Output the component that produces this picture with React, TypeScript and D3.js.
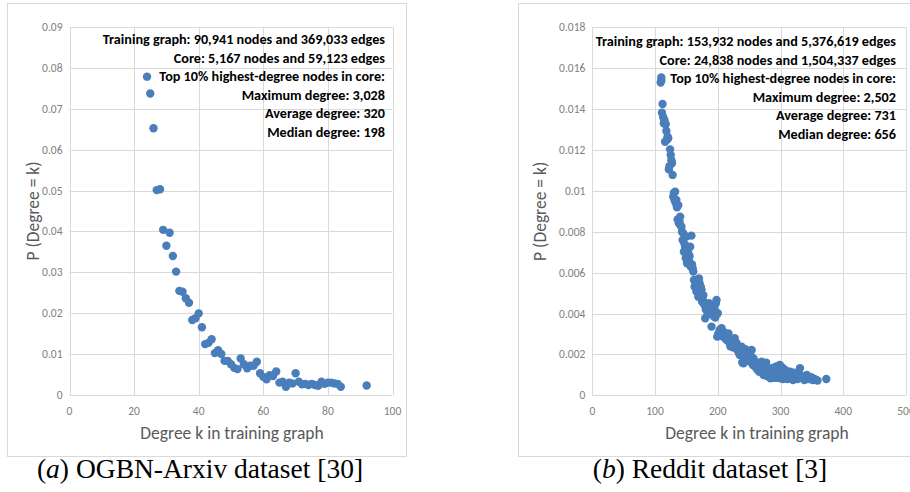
import React from "react";
import * as d3 from "d3";

// ---------- DATA ----------
const arxivDegree = [24, 25, 26, 27, 28, 29, 30, 31, 32, 33, 34, 35, 36, 37, 38, 39, 40, 41, 42, 43, 44, 45, 46, 47, 48, 49, 50, 51, 52, 53, 54, 55, 56, 57, 58, 59, 60, 61, 62, 63, 64, 65, 66, 67, 68, 69, 70, 71, 72, 73, 74, 75, 76, 77, 78, 79, 80, 81, 82, 83, 84, 92];
const arxivProb = [0.0778, 0.0737, 0.0652, 0.0501, 0.0503, 0.0404, 0.0365, 0.0397, 0.034, 0.0302, 0.0255, 0.0253, 0.0237, 0.0226, 0.0184, 0.0188, 0.02, 0.0166, 0.0125, 0.0128, 0.0137, 0.0103, 0.011, 0.0101, 0.0084, 0.0084, 0.0076, 0.0067, 0.0064, 0.009, 0.0076, 0.0066, 0.0072, 0.0072, 0.0082, 0.0054, 0.0045, 0.0039, 0.0049, 0.0047, 0.0058, 0.0031, 0.0033, 0.0021, 0.0031, 0.0029, 0.0054, 0.0033, 0.0027, 0.0028, 0.0025, 0.0028, 0.0025, 0.0023, 0.0033, 0.0028, 0.0031, 0.0031, 0.0029, 0.0028, 0.0021, 0.0024];

const redditDegree = [109, 110, 110, 111, 112, 113, 114, 115, 116, 117, 118, 119, 120, 121, 122, 123, 124, 125, 126, 127, 128, 129, 130, 131, 132, 133, 134, 135, 136, 137, 138, 139, 140, 141, 142, 143, 144, 145, 146, 147, 148, 149, 150, 151, 152, 153, 154, 155, 156, 157, 158, 159, 160, 161, 162, 163, 164, 165, 166, 167, 168, 169, 170, 171, 172, 173, 174, 175, 176, 177, 178, 179, 180, 181, 182, 183, 184, 185, 186, 187, 188, 189, 190, 191, 192, 193, 194, 195, 196, 197, 198, 199, 200, 201, 202, 203, 204, 205, 206, 207, 208, 209, 210, 211, 212, 213, 214, 215, 216, 217, 218, 219, 220, 221, 222, 223, 224, 225, 226, 227, 228, 229, 230, 231, 232, 233, 234, 235, 236, 237, 238, 239, 240, 241, 242, 243, 244, 245, 246, 247, 248, 249, 250, 251, 252, 253, 254, 255, 256, 257, 258, 259, 260, 261, 262, 263, 264, 265, 266, 267, 268, 269, 270, 271, 272, 273, 274, 275, 276, 277, 278, 279, 280, 281, 282, 283, 284, 285, 286, 287, 288, 289, 290, 291, 292, 293, 294, 295, 296, 297, 298, 299, 300, 301, 302, 303, 304, 305, 306, 307, 308, 309, 310, 311, 312, 313, 315, 316, 318, 320, 321, 323, 325, 327, 329, 331, 332, 334, 336, 338, 340, 342, 344, 346, 349, 351, 354, 357, 359, 373];
const redditProb = [0.0153, 0.01555, 0.0154, 0.01382, 0.01425, 0.0136, 0.0133, 0.01345, 0.0124, 0.01326, 0.01293, 0.0125, 0.01265, 0.01257, 0.01105, 0.0112, 0.01203, 0.01175, 0.0115, 0.01135, 0.01078, 0.00971, 0.0099, 0.00955, 0.00996, 0.00939, 0.00955, 0.0092, 0.0086, 0.0093, 0.00841, 0.0085, 0.00874, 0.0083, 0.00825, 0.008, 0.0076, 0.00792, 0.00702, 0.0074, 0.0072, 0.0067, 0.00776, 0.00646, 0.007, 0.00695, 0.0066, 0.0068, 0.00727, 0.00629, 0.00781, 0.0064, 0.0062, 0.00605, 0.00564, 0.00531, 0.0056, 0.00545, 0.00507, 0.0052, 0.0056, 0.00482, 0.00572, 0.00548, 0.0051, 0.0053, 0.00515, 0.00458, 0.0047, 0.0049, 0.0045, 0.0044, 0.00377, 0.0042, 0.00442, 0.0043, 0.004, 0.00415, 0.0045, 0.00409, 0.00425, 0.004, 0.00336, 0.00433, 0.0041, 0.00388, 0.0042, 0.00417, 0.0038, 0.0045, 0.00466, 0.00287, 0.00401, 0.00303, 0.0029, 0.0032, 0.0031, 0.00295, 0.00328, 0.003, 0.00315, 0.0029, 0.00305, 0.0028, 0.003, 0.0029, 0.0027, 0.00285, 0.00275, 0.00303, 0.0026, 0.0028, 0.0024, 0.0027, 0.00255, 0.00265, 0.00235, 0.0025, 0.0027, 0.00279, 0.00245, 0.0023, 0.00255, 0.00225, 0.0024, 0.0021, 0.0022, 0.00197, 0.00215, 0.00225, 0.00238, 0.0016, 0.002, 0.00157, 0.0021, 0.00185, 0.00225, 0.00195, 0.0017, 0.00205, 0.0018, 0.00215, 0.0019, 0.00165, 0.002, 0.00175, 0.00222, 0.0016, 0.00148, 0.0018, 0.00155, 0.00165, 0.0014, 0.0015, 0.0013, 0.0016, 0.00124, 0.0014, 0.00115, 0.0015, 0.0012, 0.00135, 0.00164, 0.0011, 0.00125, 0.00099, 0.0014, 0.00115, 0.00105, 0.0016, 0.00095, 0.00125, 0.0011, 0.0009, 0.0013, 0.001, 0.00083, 0.00115, 0.00132, 0.00095, 0.0011, 0.00085, 0.0012, 0.001, 0.0014, 0.0009, 0.0011, 0.0013, 0.00085, 0.00145, 0.00105, 0.00148, 0.00083, 0.0012, 0.00095, 0.00135, 0.0008, 0.0011, 0.0009, 0.00125, 0.00085, 0.00105, 0.00099, 0.0008, 0.00115, 0.0009, 0.00116, 0.00085, 0.001, 0.00075, 0.0011, 0.00085, 0.00095, 0.0008, 0.00105, 0.00132, 0.00085, 0.00095, 0.00083, 0.00075, 0.0009, 0.00099, 0.0008, 0.00085, 0.00088, 0.00075, 0.0008, 0.00075, 0.00072, 0.0008];

const arxivXTicks = [0, 20, 40, 60, 80, 100];
const arxivYTicks = [0, 0.01, 0.02, 0.03, 0.04, 0.05, 0.06, 0.07, 0.08, 0.09];
const redditXTicks = [0, 100, 200, 300, 400, 500];
const redditYTicks = [0, 0.002, 0.004, 0.006, 0.008, 0.01, 0.012, 0.014, 0.016, 0.018];

const arxivNotes = [
  "Training graph: 90,941 nodes and 369,033 edges",
  "Core: 5,167 nodes and 59,123 edges",
  "Top 10% highest-degree nodes in core:",
  "Maximum degree: 3,028",
  "Average degree: 320",
  "Median degree: 198",
];
const redditNotes = [
  "Training graph: 153,932 nodes and 5,376,619 edges",
  "Core: 24,838 nodes and 1,504,337 edges",
  "Top 10% highest-degree nodes in core:",
  "Maximum degree: 2,502",
  "Average degree: 731",
  "Median degree: 656",
];

const xTitle = "Degree k in training graph";
const yTitle = "P (Degree = k)";

// ---------- STYLE ----------
const DOT = "#4a7ebb";
const GRID = "#d9d9d9";
const TICK = "#7f7f7f";
const TITLE = "#595959";
const UI = "Carlito, Lato, 'Open Sans', sans-serif";

type PanelProps = {
  degree: number[];
  prob: number[];
  xTicks: number[];
  yTicks: number[];
  notes: string[];
  box: [number, number, number, number];
  plot: { x0: number; x1: number; y0: number; y1: number };
  noteRight: number;
  noteTop: number;
  xTitleX: number;
  yTitleX: number;
  letter: string;
  caption: string;
  captionX: number;
};

function Panel(p: PanelProps) {
  const x = d3.scaleLinear().domain([p.xTicks[0], p.xTicks[p.xTicks.length - 1]]).range([p.plot.x0, p.plot.x1]);
  const y = d3.scaleLinear().domain([p.yTicks[0], p.yTicks[p.yTicks.length - 1]]).range([p.plot.y0, p.plot.y1]);
  const fmt = (v: number) => String(+v.toFixed(4));
  const midY = (p.plot.y0 + p.plot.y1) / 2;
  return (
    <g>
      <rect x={p.box[0] + 0.5} y={p.box[1] + 0.5} width={p.box[2]} height={p.box[3]} fill="#fff" stroke={GRID} strokeWidth={1} />
      {p.yTicks.map((t) => (
        <line key={"gy" + t} x1={p.plot.x0} x2={p.plot.x1} y1={Math.round(y(t)) + 0.5} y2={Math.round(y(t)) + 0.5} stroke={GRID} strokeWidth={1} />
      ))}
      {p.xTicks.map((t) => (
        <line key={"gx" + t} x1={Math.round(x(t)) + 0.5} x2={Math.round(x(t)) + 0.5} y1={p.plot.y0} y2={p.plot.y1} stroke={GRID} strokeWidth={1} />
      ))}
      {p.yTicks.map((t) => (
        <text key={"ty" + t} x={p.plot.x0 - 7} y={y(t) + 4} textAnchor="end" fontFamily={UI} fontSize={11.5} fill={TICK}>
          {fmt(t)}
        </text>
      ))}
      {p.xTicks.map((t) => (
        <text key={"tx" + t} x={x(t)} y={p.plot.y0 + 19.5} textAnchor="middle" fontFamily={UI} fontSize={11.5} fill={TICK}>
          {fmt(t)}
        </text>
      ))}
      <text x={p.xTitleX} y={p.plot.y0 + 44} textAnchor="middle" fontFamily={UI} fontSize={17.5} fill={TITLE}>
        {xTitle}
      </text>
      <text transform={`translate(${p.yTitleX},${midY}) rotate(-90)`} textAnchor="middle" dy="0.35em" fontFamily={UI} fontSize={17.5} fill={TITLE}>
        {yTitle}
      </text>
      {p.notes.map((n, i) => (
        <text key={"n" + i} x={p.noteRight} y={p.noteTop + i * 18.5} textAnchor="end" fontFamily={UI} fontWeight="bold" fontSize={14.2} fill="#000">
          {n}
        </text>
      ))}
      {p.degree.map((d, i) => (
        <circle key={"c" + i} cx={x(d)} cy={y(p.prob[i])} r={4.2} fill={DOT} />
      ))}
      <text x={p.captionX} y={478} textAnchor="middle" fontFamily="'Liberation Serif', 'Times New Roman', serif" fontSize={27.5} fill="#000">
        (<tspan fontStyle="italic">{p.letter}</tspan>) {p.caption}
      </text>
    </g>
  );
}

export default function App() {
  return (
    <svg width={910} height={492} style={{ position: "absolute", left: 0, top: 0, display: "block", background: "#fff" }}>
      <rect x={0} y={0} width={910} height={492} fill="#fff" />
      <Panel
        degree={arxivDegree}
        prob={arxivProb}
        xTicks={arxivXTicks}
        yTicks={arxivYTicks}
        notes={arxivNotes}
        box={[7, 3, 399, 453]}
        plot={{ x0: 69.5, x1: 392.5, y0: 395.3, y1: 26.7 }}
        noteRight={385}
        noteTop={44}
        xTitleX={232}
        yTitleX={33}
        letter="a"
        caption="OGBN-Arxiv dataset [30]"
        captionX={200}
      />
      <Panel
        degree={redditDegree}
        prob={redditProb}
        xTicks={redditXTicks}
        yTicks={redditYTicks}
        notes={redditNotes}
        box={[518, 3, 410, 453]}
        plot={{ x0: 592.3, x1: 906, y0: 395.3, y1: 27.3 }}
        noteRight={896}
        noteTop={46}
        xTitleX={757}
        yTitleX={540}
        letter="b"
        caption="Reddit dataset [3]"
        captionX={710}
      />
    </svg>
  );
}
